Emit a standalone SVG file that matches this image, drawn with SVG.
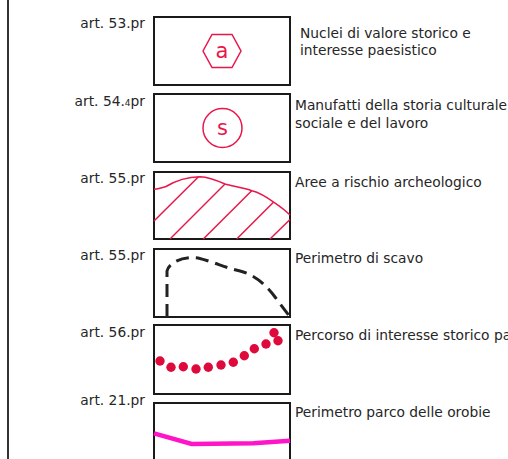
<svg xmlns="http://www.w3.org/2000/svg" width="508" height="459" viewBox="0 0 508 459">
<style>
.box{fill:#fff;stroke:#1a1a1a;stroke-width:2}
.lbl{font-family:"DejaVu Sans",Verdana,sans-serif;font-size:13.8px;fill:#262626}
.art{text-anchor:end}
.red{fill:none;stroke:#e8174b;stroke-width:1.5}
.sym{font-family:"DejaVu Sans",Verdana,sans-serif;font-size:21px;fill:#e8174b;text-anchor:middle}
</style>
<rect width="508" height="459" fill="#fff"/>
<line x1="8" y1="0" x2="8" y2="459" stroke="#333" stroke-width="2"/>

<g id="n1">
<rect class="box" x="154" y="17" width="136" height="68"/>
<polygon class="red" points="203,51 212,34.5 232,34.5 241,51 232,67.5 212,67.5"/>
<text class="sym" x="222" y="58">a</text>
<text class="lbl art" x="145" y="28">art. 53.pr</text>
<text class="lbl" x="300" y="38">Nuclei di valore storico e</text>
<text class="lbl" x="300" y="55">interesse paesistico</text>
</g>

<g id="n2">
<rect class="box" x="154" y="94" width="136" height="68"/>
<circle class="red" cx="222.5" cy="128" r="19.5"/>
<text class="sym" x="222.5" y="135">s</text>
<text class="lbl art" x="145" y="106">art. 54.<tspan font-size="9px">4</tspan>pr</text>
<text class="lbl" x="295" y="110">Manufatti della storia culturale</text>
<text class="lbl" x="295" y="128">sociale e del lavoro</text>
</g>

<g id="n3">
<rect class="box" x="154" y="172" width="136" height="67"/>
<path class="red" d="M154,189.3 C158,189.5 161,188 166,186.5 C175,181 186,177 200,176.7 C208,177 216,180 225,184 C232,186 244,188 252,190.7 C261,193 268,198 274,202.3 C281,207 286,211 290,215"/>
<g class="red">
<line x1="154" y1="221" x2="198.5" y2="176.7"/>
<line x1="170" y1="239" x2="225" y2="184"/>
<line x1="203.3" y1="239" x2="251.7" y2="190.7"/>
<line x1="236.7" y1="239" x2="273.5" y2="202.3"/>
<line x1="270" y1="239" x2="290" y2="219.5"/>
</g>
<text class="lbl art" x="145" y="183">art. 55.pr</text>
<text class="lbl" x="295" y="187">Aree a rischio archeologico</text>
</g>

<g id="n4">
<rect class="box" x="154" y="249" width="136" height="68"/>
<path d="M167,317 L167,271 C169,262 184,256 198,258 C214,262 226,268 240,271 C255,275 265,284 275,297 L290,317" fill="none" stroke="#222" stroke-width="3" stroke-dasharray="13,7"/>
<text class="lbl art" x="145" y="260">art. 55.pr</text>
<text class="lbl" x="295" y="263">Perimetro di scavo</text>
</g>

<g id="n5">
<rect class="box" x="154" y="325" width="136" height="69"/>
<g fill="#de0a3c">
<circle cx="160" cy="361" r="4.7"/>
<circle cx="171" cy="367.3" r="4.7"/>
<circle cx="183.3" cy="366.7" r="4.7"/>
<circle cx="196" cy="369" r="4.7"/>
<circle cx="208.3" cy="367.3" r="4.7"/>
<circle cx="221" cy="365" r="4.7"/>
<circle cx="233.3" cy="362.3" r="4.7"/>
<circle cx="244.3" cy="355.7" r="4.7"/>
<circle cx="254.3" cy="348.7" r="4.7"/>
<circle cx="266" cy="344" r="4.7"/>
<circle cx="274" cy="332.7" r="4.7"/>
<circle cx="278" cy="340.7" r="4.7"/>
</g>
<text class="lbl art" x="145" y="337">art. 56.pr</text>
<text class="lbl" x="295" y="340">Percorso di interesse storico pa</text>
</g>

<g id="n6">
<rect class="box" x="154" y="403" width="136" height="70"/>
<polyline points="154,433.3 191.7,444 253.3,443.3 290,440.7" fill="none" stroke="#ff14c8" stroke-width="4.5"/>
<text class="lbl art" x="145" y="405">art. 21.pr</text>
<text class="lbl" x="295" y="417">Perimetro parco delle orobie</text>
</g>

<g id="connectors"></g>
</svg>
